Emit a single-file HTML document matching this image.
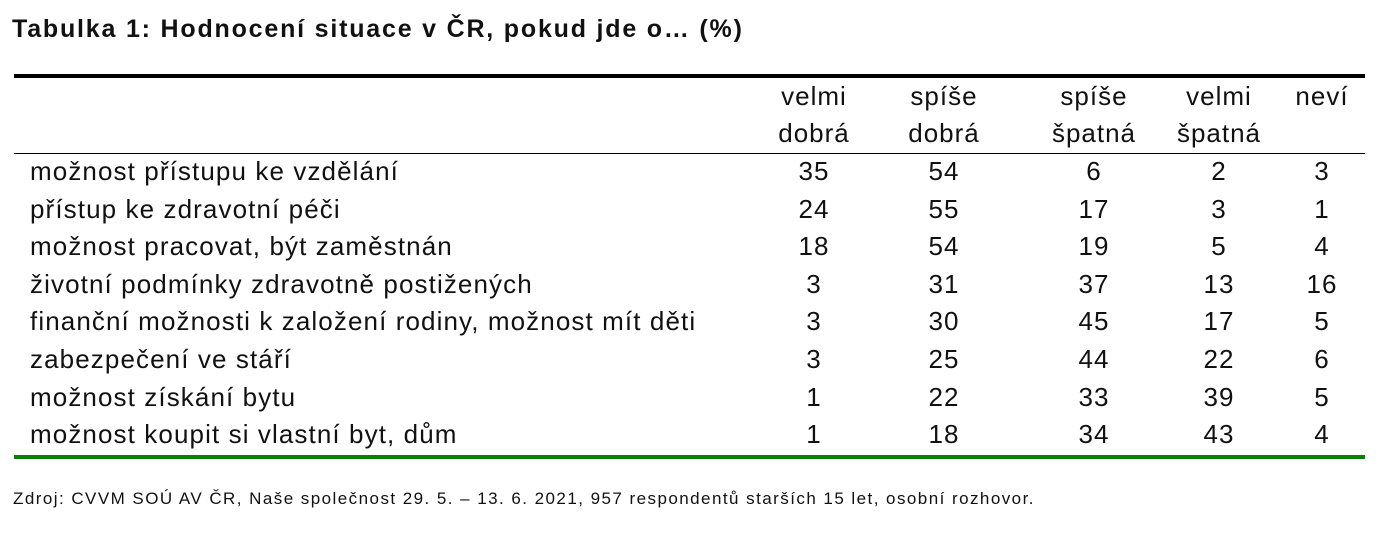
<!DOCTYPE html>
<html><head><meta charset="utf-8"><style>
body{margin:0;width:1399px;height:547px;background:#fff;position:relative;font-family:"Liberation Sans",Arial,sans-serif;color:#111;overflow:hidden}
.a{position:absolute;white-space:nowrap}
.t{font-size:25px;font-weight:bold;left:12px;top:15px;letter-spacing:1.8px}
.c{font-size:26px;line-height:30px;text-align:center;width:120px;letter-spacing:1px}
.l{font-size:26px;line-height:30px;left:30px;letter-spacing:1.1px}
.src{font-size:17px;left:13px;top:489px;letter-spacing:1.45px}
</style></head><body>
<div class="a t">Tabulka 1: Hodnocení situace v ČR, pokud jde o… (%)</div>
<div class="a" style="left:14px;top:74px;width:1351px;height:4px;background:#000"></div>
<div class="a" style="left:14px;top:153px;width:1351px;height:1px;background:#000"></div>
<div class="a" style="left:14px;top:455px;width:1351px;height:4px;background:#0a7d0a"></div>
<div id="tbl"></div>
<div class="a src">Zdroj: CVVM SOÚ AV ČR, Naše společnost 29. 5. – 13. 6. 2021, 957 respondentů starších 15 let, osobní rozhovor.</div>
<script>
const headers1=["velmi","spíše","spíše","velmi","neví"];
const headers2=["dobrá","dobrá","špatná","špatná",""];
const rows=["možnost přístupu ke vzdělání","přístup ke zdravotní péči","možnost pracovat, být zaměstnán","životní podmínky zdravotně postižených","finanční možnosti k založení rodiny, možnost mít děti","zabezpečení ve stáří","možnost získání bytu","možnost koupit si vlastní byt, dům"];
const velmiDobra=[35,24,18,3,3,3,1,1];
const spiseDobra=[54,55,54,31,30,25,22,18];
const spiseSpatna=[6,17,19,37,45,44,33,34];
const velmiSpatna=[2,3,5,13,17,22,39,43];
const nevi=[3,1,4,16,5,6,5,4];
const cols=[velmiDobra,spiseDobra,spiseSpatna,velmiSpatna,nevi];
const colX=[814,944,1094,1219,1322];
const root=document.getElementById('tbl');
function add(cls,txt,x,y,name){const d=document.createElement('div');d.className='a '+cls;d.textContent=txt;


if(cls==='c')d.style.left=(x-60)+'px';else d.style.left=x+'px';d.style.top=(y-15)+'px';root.appendChild(d);}
headers1.forEach((h,i)=>add('c',h,colX[i],96,'column-header'));
headers2.forEach((h,i)=>{if(h)add('c',h,colX[i],133,'column-header')});
rows.forEach((r,j)=>{const y=171+j*37.6;add('l',r,30,y,'row-label');
cols.forEach((c,i)=>add('c',String(c[j]),colX[i],y,'cell-value'));});
</script>
</body></html>
